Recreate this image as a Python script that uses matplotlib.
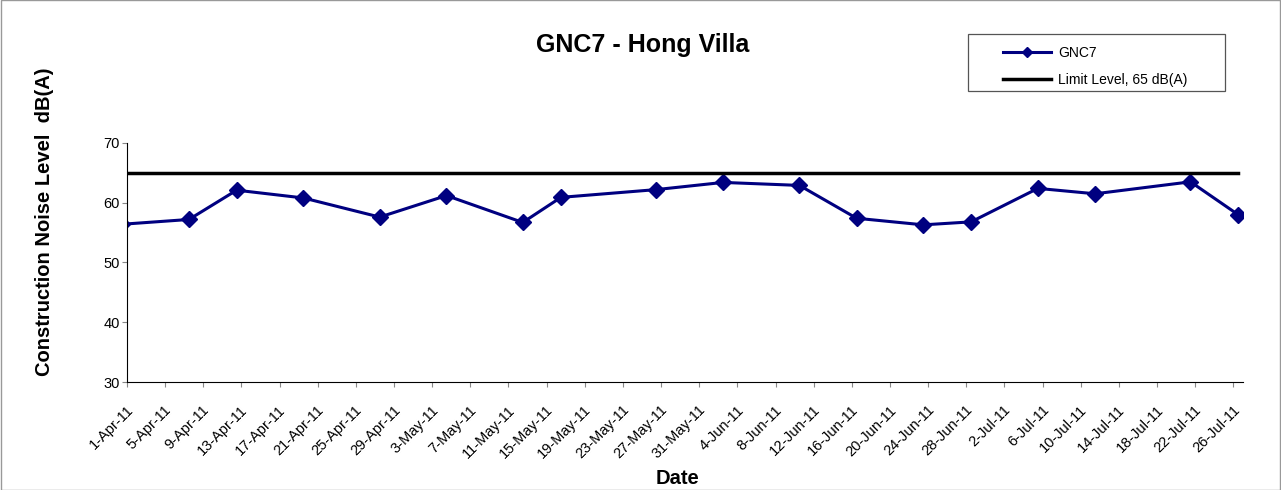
import numpy as np
import pandas as pd
import matplotlib
matplotlib.use('Agg')
import matplotlib.pyplot as plt
import matplotlib.transforms as mtransforms

plt.rcParams['font.family'] = ['Liberation Sans', 'DejaVu Sans']

dates = ['2011-03-31', '2011-04-07', '2011-04-12', '2011-04-19', '2011-04-27',
         '2011-05-04', '2011-05-12', '2011-05-16', '2011-05-26', '2011-06-02',
         '2011-06-10', '2011-06-16', '2011-06-23', '2011-06-28', '2011-07-05',
         '2011-07-11', '2011-07-21', '2011-07-26']
gnc7 = [56.4, 57.2, 62.1, 60.8, 57.6, 61.2, 56.7, 60.9, 62.2, 63.4,
        62.9, 57.4, 56.3, 56.8, 62.4, 61.5, 63.5, 58.0]
limit = [65] * len(dates)

# Excel plots each date in the middle of its day
x = pd.to_datetime(dates) + pd.Timedelta(hours=12)

fig = plt.figure(figsize=(12.81, 4.9), dpi=100)
ax = fig.add_axes([0.0991, 0.2204, 0.8712, 0.4878])

l1, = ax.plot(x, gnc7, color='#000080', lw=2.2, marker='D', ms=8, label='GNC7')
l2, = ax.plot(x, limit, color='black', lw=2.5, label='Limit Level, 65 dB(A)')

ax.set_xlim(pd.Timestamp('2011-04-01'), pd.Timestamp('2011-07-27'))
ax.set_ylim(30, 70)
ax.set_yticks([30, 40, 50, 60, 70])
ticks = pd.date_range('2011-04-01', '2011-07-26', freq='4D')
ax.set_xticks(ticks)
ax.set_xticklabels([f"{d.day}-{d.strftime('%b')}-11" for d in ticks],
                   rotation=45, ha='right', va='center', rotation_mode='anchor', fontsize=10.5)
ax.tick_params(axis='y', labelsize=10.5, length=3.6, color='#888888', pad=1.5)
ax.tick_params(axis='x', length=3.6, color='#888888', pad=15)
shift = mtransforms.ScaledTranslation(0.04, 0, fig.dpi_scale_trans)
for lab in ax.get_xticklabels():
    lab.set_transform(lab.get_transform() + shift)

for s in ['top', 'right']:
    ax.spines[s].set_visible(False)

ax.set_xlabel('Date', fontsize=14.5, fontweight='bold', va='top')
ax.xaxis.set_label_coords(0.493, -0.362)
ax.set_ylabel('Construction Noise Level  dB(A)', fontsize=14.5, fontweight='bold')
ax.yaxis.set_label_coords(-0.065, 0.669)

fig.text(0.502, 0.908, 'GNC7 - Hong Villa', ha='center', va='center',
         fontsize=18, fontweight='bold')

leg = fig.legend(handles=[l1, l2], loc='upper left', bbox_to_anchor=(0.783, 0.906),
                 fontsize=10, frameon=False, handlelength=3.45, handletextpad=0.5,
                 borderpad=0, borderaxespad=0, labelspacing=0.95)
for h in leg.legend_handles:
    if h.get_marker() == 'D':
        h.set_markersize(5.5)

# legend frame is wider than its content in the original
fig.patches.append(plt.Rectangle((0.7557, 0.8143), 0.2006, 0.1163, transform=fig.transFigure,
                                 fill=False, edgecolor='#555555', lw=0.9))
# outer chart border
fig.patches.append(plt.Rectangle((0.0005, 0.001), 0.999, 0.998, transform=fig.transFigure,
                                 fill=False, edgecolor='#999999', lw=1))

fig.savefig('out.png', dpi=100)
